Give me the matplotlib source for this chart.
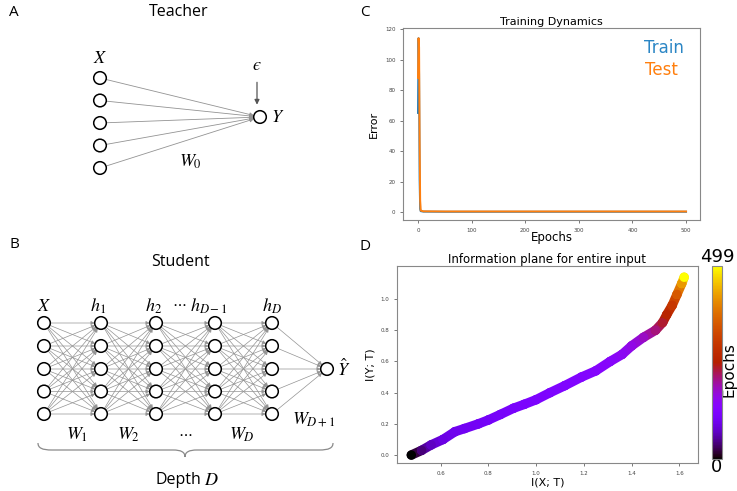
import numpy as np
import matplotlib.pyplot as plt
from matplotlib.patches import Circle, FancyArrowPatch, PathPatch
from matplotlib.path import Path
from matplotlib.collections import LineCollection
from matplotlib.colors import Normalize

plt.rcParams['mathtext.fontset'] = 'stix'

# training curves (error per epoch)
epochs = [0, 1, 2, 3, 4, 5, 10, 50, 100, 200, 300, 400, 500]
train_err = [65, 114, 90, 21, 2.0, 0.6, 0.3, 0.2, 0.2, 0.2, 0.2, 0.2, 0.2]
test_err = [88, 114, 108, 47, 8.0, 1.0, 0.5, 0.4, 0.4, 0.4, 0.4, 0.4, 0.4]

# information plane trajectory
ip_epoch = [0, 40, 70, 88, 96, 100, 104, 107, 110, 113, 116, 119, 122, 126,
            130, 135, 140, 150, 160, 180, 210, 235, 260, 300, 350, 420, 499]
ixt = [0.477, 0.52, 0.56, 0.61, 0.66, 0.70, 0.758, 0.80, 0.85, 0.905, 0.95,
       1.00, 1.058, 1.12, 1.19, 1.25, 1.31, 1.36, 1.40, 1.45, 1.50, 1.53,
       1.547, 1.57, 1.59, 1.61, 1.62]
iyt = [0.00, 0.03, 0.065, 0.10, 0.15, 0.17, 0.20, 0.225, 0.26, 0.30, 0.325,
       0.355, 0.40, 0.445, 0.50, 0.54, 0.60, 0.645, 0.70, 0.755, 0.80, 0.85,
       0.90, 0.96, 1.03, 1.10, 1.14]

fig = plt.figure(figsize=(7.37, 4.91), dpi=100)

# ---- diagrams, drawn in pixel coordinates ----
dg = fig.add_axes([0, 0, 1, 1])
dg.set_xlim(0, 737)
dg.set_ylim(491, 0)
dg.axis('off')

R = 6.3
EDGE = '#939393'
sans = 'Open Sans'


def node(x, y):
    dg.add_patch(Circle((x, y), R, facecolor='white', edgecolor='black', lw=1.1, zorder=3))


def edge(p, q, color=EDGE, lw=0.6, ms=6):
    p, q = np.array(p, float), np.array(q, float)
    u = (q - p) / np.hypot(*(q - p))
    dg.add_patch(FancyArrowPatch(p + R * u, q - R * u, arrowstyle='-|>', mutation_scale=ms,
                                 color=color, lw=lw, shrinkA=0, shrinkB=0, zorder=2))


# teacher
tx_in = 100
rows_a = [78, 100.5, 123, 145.5, 168]
y_out = (260, 117)
for y in rows_a:
    edge((tx_in, y), y_out)
    node(tx_in, y)
node(*y_out)
edge((257, 76), (257, 111), color='#555555', lw=0.9, ms=7)
dg.text(14, 12, 'A', fontsize=11, family=sans, ha='center', va='center')
dg.text(179, 12, 'Teacher', fontsize=11.5, family=sans, ha='center', va='center')
dg.text(100, 58, '$X$', fontsize=13, ha='center', va='center')
dg.text(278, 117, '$Y$', fontsize=13, ha='center', va='center')
dg.text(257, 65, '$\u03f5$', fontsize=13, ha='center', va='center')
dg.text(190, 162, '$W_0$', fontsize=13, ha='center', va='center')

# student
layers_x = [44, 101, 156, 215, 272]
rows_b = [323, 346, 369, 391.5, 414]
y_hat = (327, 369)
for i in range(len(layers_x) - 1):
    for ya in rows_b:
        for yb in rows_b:
            edge((layers_x[i], ya), (layers_x[i + 1], yb), lw=0.5, ms=5.5)
for ya in rows_b:
    edge((layers_x[-1], ya), y_hat, lw=0.5, ms=5.5)
for x in layers_x:
    for y in rows_b:
        node(x, y)
node(*y_hat)

dg.text(14, 244, 'B', fontsize=11, family=sans, ha='center', va='center')
dg.text(180, 262, 'Student', fontsize=11.5, family=sans, ha='center', va='center')
for x, lab in zip([44, 98, 154, 209, 272],
                  ['$X$', '$h_1$', '$h_2$', '$h_{D-1}$', '$h_D$']):
    dg.text(x, 306, lab, fontsize=13, ha='center', va='center')
dg.text(179, 303, r'$\cdots$', fontsize=11, ha='center', va='center')
dg.text(344, 369, r'$\hat{Y}$', fontsize=13, ha='center', va='center')
for x, lab in zip([77, 129, 242], ['$W_1$', '$W_2$', '$W_D$']):
    dg.text(x, 435, lab, fontsize=13, ha='center', va='center')
dg.text(185, 433, r'$\cdots$', fontsize=11, ha='center', va='center')
dg.text(314, 420, '$W_{D+1}$', fontsize=13, ha='center', va='center')

# brace under the student network
verts = [(38, 443), (38, 448), (42, 450), (52, 450), (173, 450),
         (181, 450), (185, 452), (185, 457),
         (185, 452), (189, 450), (197, 450), (319, 450),
         (329, 450), (333, 448), (333, 443)]
codes = [Path.MOVETO, Path.CURVE4, Path.CURVE4, Path.CURVE4, Path.LINETO,
         Path.CURVE4, Path.CURVE4, Path.CURVE4,
         Path.CURVE4, Path.CURVE4, Path.CURVE4, Path.LINETO,
         Path.CURVE4, Path.CURVE4, Path.CURVE4]
dg.add_patch(PathPatch(Path(verts, codes), facecolor='none', edgecolor='#8a8a8a', lw=0.9))
dg.text(178, 480, 'Depth', fontsize=11.5, family=sans, ha='center', va='center')
dg.text(211, 480, '$D$', fontsize=13, ha='center', va='center')

dg.text(365, 12, 'C', fontsize=11, family=sans, ha='center', va='center')
dg.text(365, 246, 'D', fontsize=11, family=sans, ha='center', va='center')

# ---- training dynamics ----
axc = fig.add_axes([403 / 737, 1 - 220 / 491, 297 / 737, 192 / 491])
axc.plot(epochs, train_err, color='#1f77b4', lw=1.4)
axc.plot(epochs, test_err, color='#ff7f0e', lw=1.4)
axc.set_xlim(-28, 526)
axc.set_ylim(-5.2, 120.7)
axc.set_xticks([0, 100, 200, 300, 400, 500])
axc.set_yticks([0, 20, 40, 60, 80, 100, 120])
axc.tick_params(labelsize=4, length=2, width=0.5, colors='#444444')
axc.set_title('Training Dynamics', fontsize=8, pad=2)
axc.set_xlabel('Epochs', fontsize=8.5, labelpad=-1)
axc.set_ylabel('Error', fontsize=8, labelpad=4)
for s in axc.spines.values():
    s.set_color('#888888')
axc.text(664, 48, 'Train', color='#2b86c5', fontsize=12, ha='center', va='center',
         transform=dg.transData)
axc.text(661, 70, 'Test', color='#ff7f0e', fontsize=12, ha='center', va='center',
         transform=dg.transData)

# ---- information plane ----
axd = fig.add_axes([397 / 737, 1 - 463 / 491, 301 / 737, 197 / 491])
norm = Normalize(0, 499)
cmap = plt.get_cmap('gnuplot')
pts = np.column_stack([ixt, iyt])
segs = np.stack([pts[:-1], pts[1:]], axis=1)
seg_c = [(a + b) / 2 for a, b in zip(ip_epoch[:-1], ip_epoch[1:])]
lc = LineCollection(segs, colors=cmap(norm(seg_c)), linewidths=6.8, capstyle='round')
axd.add_collection(lc)
sc = axd.scatter(ixt, iyt, c=ip_epoch, cmap=cmap, norm=norm, s=46, lw=0, zorder=3)
axd.set_xlim(0.417, 1.678)
axd.set_ylim(-0.051, 1.212)
axd.set_xticks([0.6, 0.8, 1.0, 1.2, 1.4, 1.6])
axd.set_yticks([0.0, 0.2, 0.4, 0.6, 0.8, 1.0])
axd.tick_params(labelsize=4, length=2, width=0.5, colors='#444444')
axd.set_title('Information plane for entire input', fontsize=8.5, pad=1)
axd.set_xlabel('I(X; T)', fontsize=8, labelpad=1)
axd.set_ylabel('I(Y; T)', fontsize=8, labelpad=4)
for s in axd.spines.values():
    s.set_color('#888888')

cax = fig.add_axes([712 / 737, 1 - 459 / 491, 10 / 737, 193 / 491])
cb = fig.colorbar(sc, cax=cax)
cb.set_ticks([])
cb.outline.set_edgecolor('#888888')
dg.text(717, 257, '499', fontsize=13, ha='center', va='center')
dg.text(717, 467, '0', fontsize=13, ha='center', va='center')
dg.text(729, 370, 'Epochs', fontsize=11, rotation=90, ha='center', va='center')

fig.savefig('out.png', dpi=100)
